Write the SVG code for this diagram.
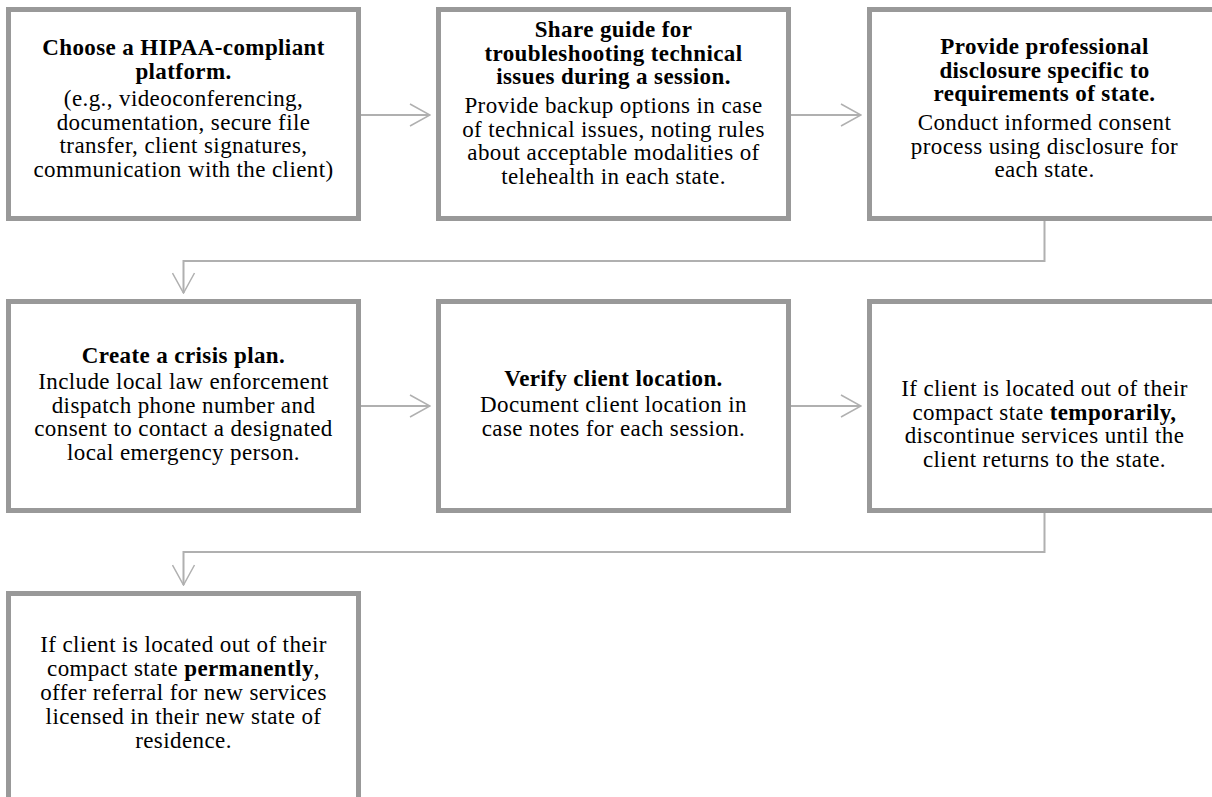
<svg xmlns="http://www.w3.org/2000/svg" width="1212" height="797" viewBox="0 0 1212 797">
<style>
.box{fill:#fff;stroke:#999;stroke-width:5}
.t{font-family:"Liberation Serif","Times New Roman",serif;font-size:23px;fill:#000;text-anchor:middle;letter-spacing:0.4px}
.b{font-weight:bold}
.c{fill:none;stroke:#b0b0b0;stroke-width:2}
</style>
<defs>
<marker id="ah" markerUnits="userSpaceOnUse" viewBox="0 0 22 24" markerWidth="22" markerHeight="24" refX="21" refY="12" orient="auto">
<path d="M1,1 L21,12 L1,23" fill="none" stroke="#b0b0b0" stroke-width="1.5"/>
</marker>
</defs>
<rect width="1212" height="797" fill="#fff"/>
<g id="connectors">
<path class="c" d="M361,115 H430" marker-end="url(#ah)"/>
<path class="c" d="M791,115 H861" marker-end="url(#ah)"/>
<path class="c" d="M1044.5,221 V261 H183.5 V293" marker-end="url(#ah)"/>
<path class="c" d="M361,406 H430" marker-end="url(#ah)"/>
<path class="c" d="M791,406 H861" marker-end="url(#ah)"/>
<path class="c" d="M1044.5,513 V552 H183.5 V585" marker-end="url(#ah)"/>
</g>
<g id="n1">
<rect class="box" x="8.5" y="9.5" width="350" height="209"/>
<text class="t b" x="183.5" y="55">Choose a HIPAA-compliant</text>
<text class="t b" x="183.5" y="78.5">platform.</text>
<text class="t" x="183.5" y="106">(e.g., videoconferencing,</text>
<text class="t" x="183.5" y="129.5">documentation, secure file</text>
<text class="t" x="183.5" y="153">transfer, client signatures,</text>
<text class="t" x="183.5" y="176.5">communication with the client)</text>
</g>
<g id="n2">
<rect class="box" x="438.5" y="9.5" width="350" height="209"/>
<text class="t b" x="613.5" y="37">Share guide for</text>
<text class="t b" x="613.5" y="60.5">troubleshooting technical</text>
<text class="t b" x="613.5" y="84">issues during a session.</text>
<text class="t" x="613.5" y="113">Provide backup options in case</text>
<text class="t" x="613.5" y="136.5">of technical issues, noting rules</text>
<text class="t" x="613.5" y="160">about acceptable modalities of</text>
<text class="t" x="613.5" y="183.5">telehealth in each state.</text>
</g>
<g id="n3">
<rect class="box" x="869.5" y="9.5" width="350" height="209"/>
<text class="t b" x="1044.5" y="54">Provide professional</text>
<text class="t b" x="1044.5" y="77.5">disclosure specific to</text>
<text class="t b" x="1044.5" y="101">requirements of state.</text>
<text class="t" x="1044.5" y="130">Conduct informed consent</text>
<text class="t" x="1044.5" y="153.5">process using disclosure for</text>
<text class="t" x="1044.5" y="177">each state.</text>
</g>
<g id="n4">
<rect class="box" x="8.5" y="301.5" width="350" height="209"/>
<text class="t b" x="183.5" y="363">Create a crisis plan.</text>
<text class="t" x="183.5" y="389">Include local law enforcement</text>
<text class="t" x="183.5" y="412.5">dispatch phone number and</text>
<text class="t" x="183.5" y="436">consent to contact a designated</text>
<text class="t" x="183.5" y="459.5">local emergency person.</text>
</g>
<g id="n5">
<rect class="box" x="438.5" y="301.5" width="350" height="209"/>
<text class="t b" x="613.5" y="386">Verify client location.</text>
<text class="t" x="613.5" y="412">Document client location in</text>
<text class="t" x="613.5" y="435.5">case notes for each session.</text>
</g>
<g id="n6">
<rect class="box" x="869.5" y="301.5" width="350" height="209"/>
<text class="t" x="1044.5" y="396">If client is located out of their</text>
<text class="t" x="1044.5" y="419.5">compact state <tspan class="b">temporarily,</tspan></text>
<text class="t" x="1044.5" y="443">discontinue services until the</text>
<text class="t" x="1044.5" y="466.5">client returns to the state.</text>
</g>
<g id="n7">
<rect class="box" x="8.5" y="593.5" width="350" height="209"/>
<text class="t" x="183.5" y="652">If client is located out of their</text>
<text class="t" x="183.5" y="676">compact state <tspan class="b">permanently</tspan>,</text>
<text class="t" x="183.5" y="700">offer referral for new services</text>
<text class="t" x="183.5" y="724">licensed in their new state of</text>
<text class="t" x="183.5" y="748">residence.</text>
</g>
</svg>
